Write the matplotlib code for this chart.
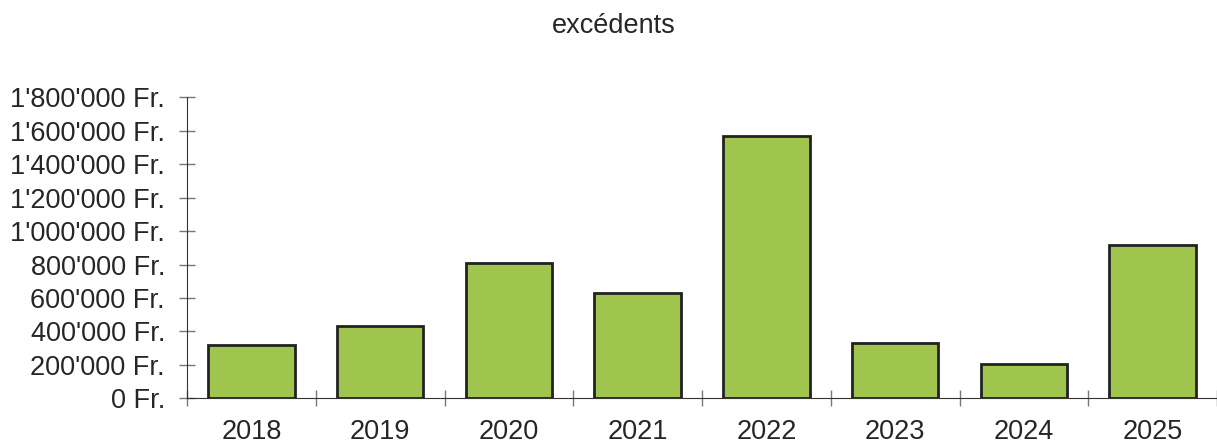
import matplotlib.pyplot as plt
from matplotlib.ticker import FuncFormatter, MultipleLocator

# Daten
years = ['2018', '2019', '2020', '2021', '2022', '2023', '2024', '2025']
excedents = [319000, 433000, 811000, 632000, 1569000, 331000, 207000, 917000]


def fr_format(v, pos):
    return f"{int(round(v)):,} Fr.".replace(',', "'")


plt.rcParams['font.family'] = ['Liberation Sans', 'DejaVu Sans']

fig = plt.figure(figsize=(12.17, 4.41), dpi=100)
ax = fig.add_axes([187 / 1217, 0.0968, 1 - 187 / 1217, 0.6826])

x = list(range(len(years)))
ax.bar(x, excedents, width=0.67, color='#a0c54f', edgecolor='#222222', linewidth=2, zorder=3)

ax.set_xlim(-0.5, len(years) - 0.5)
ax.set_ylim(0, 1800000)
ax.yaxis.set_major_locator(MultipleLocator(200000))
ax.yaxis.set_major_formatter(FuncFormatter(fr_format))

# Ticks an Kategoriegrenzen, Labels in der Mitte
ax.set_xticks([i - 0.5 for i in range(len(years) + 1)])
ax.set_xticklabels([])
ax.set_xticks(x, minor=True)
ax.set_xticklabels(years, minor=True)
ax.tick_params(axis='x', which='minor', length=0, pad=15, labelsize=19.5, labelcolor='#262626')
ax.tick_params(axis='x', which='major', direction='inout', length=11.5, color='#777777', width=1)
ax.tick_params(axis='y', direction='inout', length=11.5, color='#777777', width=1,
               pad=10, labelsize=19.5, labelcolor='#262626')

for s in ['top', 'right']:
    ax.spines[s].set_visible(False)
ax.spines['left'].set_color('#333333')
ax.spines['bottom'].set_color('#333333')

fig.text(0.504, 0.94, 'excédents', ha='center', va='center', fontsize=19.5, color='#262626')

plt.savefig('out.png', dpi=100)
plt.close()
